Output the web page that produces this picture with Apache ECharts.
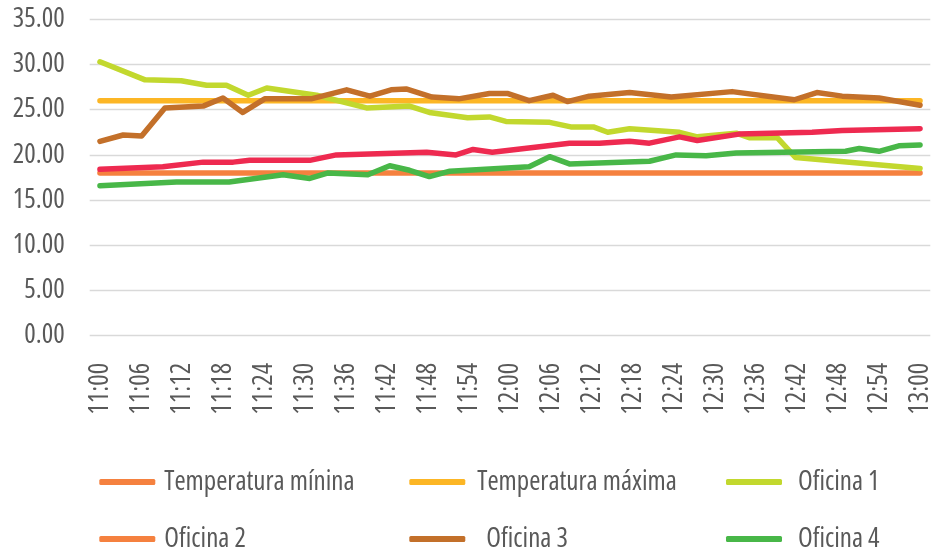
<!DOCTYPE html>
<html lang="es">
<head>
    <meta charset="UTF-8">
    <title>Temperaturas oficinas</title>
    <script src="https://cdnjs.cloudflare.com/ajax/libs/echarts/6.0.0/echarts.min.js"></script>
    <style>
        html, body {margin: 0; padding: 0; background: #fff;}
    </style>
</head>
<body>
<div id="chart" style="width: 935px; height: 556px;"></div>

<script>
    // minutes after 11:00 and temperature, read at each bend of the lines
    var tickLabels = ['11:00', '11:06', '11:12', '11:18', '11:24', '11:30', '11:36', '11:42', '11:48', '11:54',
        '12:00', '12:06', '12:12', '12:18', '12:24', '12:30', '12:36', '12:42', '12:48', '12:54', '13:00'];

    var tminMinutes = [0, 120];
    var tminValues = [18.0, 18.0];

    var tmaxMinutes = [0, 120];
    var tmaxValues = [26.0, 26.0];

    var of1Minutes = [0, 6.6, 11.9, 15.6, 18.5, 21.7, 24.4, 31.7, 39.0, 45.3, 48.2, 53.8, 57.0, 59.4, 65.8,
        68.9, 72.2, 74.3, 77.5, 84.8, 87.4, 93.1, 95.0, 99.1, 101.8, 120];
    var of1Values = [30.3, 28.3, 28.2, 27.7, 27.7, 26.6, 27.4, 26.6, 25.2, 25.4, 24.7, 24.1, 24.2, 23.7, 23.6,
        23.1, 23.1, 22.5, 22.9, 22.5, 22.0, 22.4, 21.9, 21.9, 19.7, 18.5];

    var of2Minutes = [0, 9.2, 15.1, 19.5, 21.9, 30.7, 34.6, 47.8, 52.1, 54.6, 57.4, 68.7, 73.1, 77.5, 80.4,
        84.8, 87.4, 93.5, 104.2, 108.6, 120];
    var of2Values = [18.4, 18.7, 19.2, 19.2, 19.4, 19.4, 20.0, 20.3, 20.0, 20.6, 20.3, 21.3, 21.3, 21.5, 21.3,
        22.0, 21.6, 22.3, 22.5, 22.7, 22.9];

    var of3Minutes = [0, 3.4, 6.1, 9.5, 15.1, 18.0, 20.9, 24.1, 30.9, 36.1, 39.5, 42.6, 44.8, 48.6, 52.5,
        57.0, 59.6, 62.8, 66.3, 68.4, 71.6, 77.5, 83.6, 92.5, 101.6, 104.9, 108.6, 114.0, 120];
    var of3Values = [21.5, 22.2, 22.1, 25.2, 25.4, 26.3, 24.7, 26.2, 26.2, 27.2, 26.5, 27.2, 27.3, 26.4, 26.2,
        26.8, 26.8, 26.0, 26.6, 25.9, 26.5, 26.9, 26.4, 27.0, 26.1, 26.9, 26.5, 26.3, 25.5];

    var of4Minutes = [0, 11.2, 18.9, 26.8, 30.7, 33.4, 39.2, 42.4, 45.3, 48.2, 51.2, 62.8, 65.8, 68.7, 80.4,
        84.3, 88.7, 93.1, 109.1, 111.1, 114.0, 116.9, 120];
    var of4Values = [16.6, 17.0, 17.0, 17.8, 17.4, 18.0, 17.8, 18.8, 18.3, 17.6, 18.2, 18.7, 19.8, 19.0, 19.3,
        20.0, 19.9, 20.2, 20.4, 20.7, 20.4, 21.0, 21.1];

    // narrow face of Open Sans, close to the condensed font of the original
    var font = "'Open Sans'";
    var fontStretch = 'condensed';
    var fontSize = 27;
    var textColor = '#595959';

    function pairs(xs, ys) {
        return xs.map(function (x, i) { return [x, ys[i]]; });
    }

    // label positions come from the label text itself
    var tickMinutes = tickLabels.map(function (t) {
        var p = t.split(':');
        return (parseInt(p[0], 10) - 11) * 60 + parseInt(p[1], 10);
    });

    function lineSeries(name, color, data, legendColor) {
        return {
            name: name,
            type: 'line',
            data: data,
            symbol: 'none',
            color: legendColor || color,
            lineStyle: {color: color, width: 5.5, cap: 'round', join: 'round'},
            emphasis: {disabled: true}
        };
    }

    function legendItem(name, color, pad) {
        var item = {name: name, itemStyle: {color: color}};
        if (pad) {
            item.textStyle = {padding: [0, 0, 0, pad]};
        }
        return item;
    }

    function legendCol(left, items, pad) {
        return {
            orient: 'vertical',
            left: left,
            top: 467,
            padding: 0,
            icon: 'roundRect',
            itemWidth: 56,
            itemHeight: 6,
            itemGap: 27,
            selectedMode: false,
            textStyle: {
                fontFamily: font, fontStyle: fontStretch, fontSize: fontSize, color: textColor, lineHeight: 30,
                padding: [0, 0, 0, pad]
            },
            data: items
        };
    }

    var chart = echarts.init(document.getElementById('chart'));

    var option = {
        animation: false,
        backgroundColor: '#fff',
        grid: {left: 89.7, right: 4.7, top: 19.3, bottom: 220.3, outerBoundsMode: 'none'},
        xAxis: {
            type: 'value',
            min: -1.5,
            max: 121.5,
            axisLine: {show: false},
            axisTick: {show: false},
            splitLine: {show: false},
            axisLabel: {
                customValues: tickMinutes,
                formatter: function (v) { return tickLabels[tickMinutes.indexOf(v)]; },
                rotate: 90,
                margin: 27,
                fontFamily: font,
                fontStyle: fontStretch,
                fontSize: fontSize,
                color: textColor
            }
        },
        yAxis: {
            type: 'value',
            min: 0,
            max: 35,
            interval: 5,
            axisLine: {show: false},
            axisTick: {show: false},
            splitLine: {lineStyle: {color: '#D9D9D9', width: 1.3}},
            axisLabel: {
                formatter: function (v) { return v.toFixed(2); },
                margin: 25,
                fontFamily: font,
                fontStyle: fontStretch,
                fontSize: fontSize,
                color: textColor
            }
        },
        legend: [
            legendCol(99.3, [
                legendItem('Temperatura mínina', '#F5813F'),
                legendItem('Oficina 2', '#F5813F')
            ], 4),
            legendCol(409.3, [
                legendItem('Temperatura máxima', '#FCB625'),
                legendItem('Oficina 3', '#C3702A', 16)
            ], 7),
            legendCol(726, [
                legendItem('Oficina 1', '#C2D82E'),
                legendItem('Oficina 4', '#48B748')
            ], 11)
        ],
        series: [
            lineSeries('Temperatura mínina', '#F5813F', pairs(tminMinutes, tminValues)),
            lineSeries('Temperatura máxima', '#FCB625', pairs(tmaxMinutes, tmaxValues)),
            lineSeries('Oficina 1', '#C2D82E', pairs(of1Minutes, of1Values)),
            lineSeries('Oficina 2', '#EE2A50', pairs(of2Minutes, of2Values), '#F5813F'),
            lineSeries('Oficina 3', '#C3702A', pairs(of3Minutes, of3Values)),
            lineSeries('Oficina 4', '#48B748', pairs(of4Minutes, of4Values))
        ]
    };

    chart.setOption(option);
</script>
</body>
</html>
